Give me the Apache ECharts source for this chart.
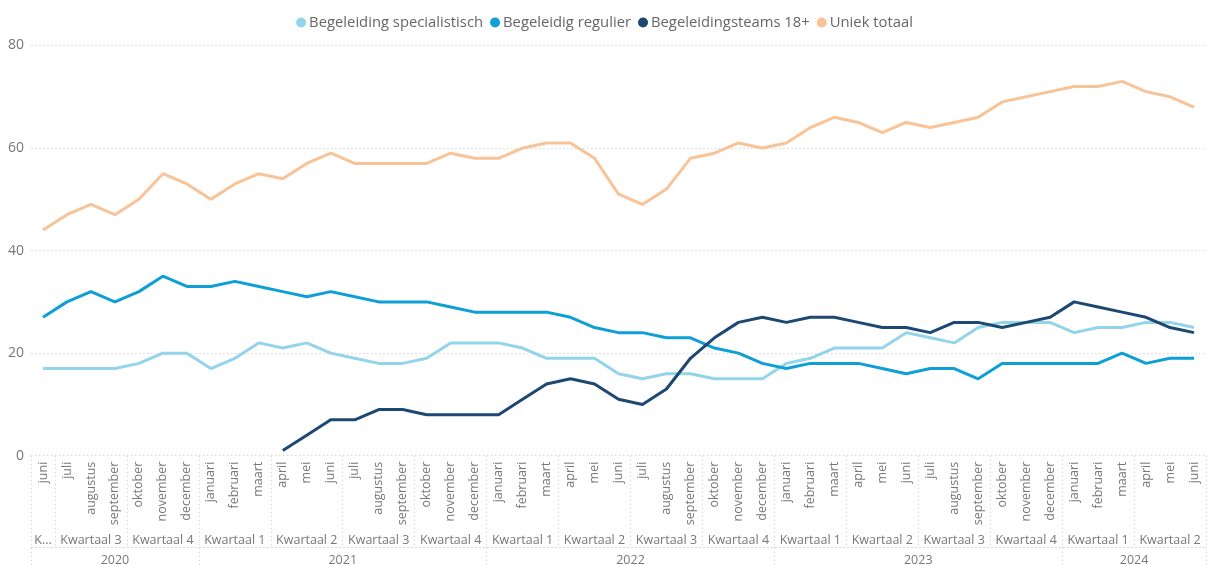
<!DOCTYPE html>
<html>
<head>
<meta charset="utf-8">
<script src="https://cdn.jsdelivr.net/npm/echarts@6/dist/echarts.min.js"></script>
<style>
html,body{margin:0;padding:0;background:#fff;}
#c{width:1209px;height:565px;}
</style>
</head>
<body>
<div id="c"></div>
<script>
// ---- data ----
const monthNames = ['januari','februari','maart','april','mei','juni','juli','augustus','september','oktober','november','december'];
const startYear = 2020;
const startMonth = 5; // juni (0-based)
const monthCount = 49;
const seriesNames = ['Begeleiding specialistisch','Begeleidig regulier','Begeleidingsteams 18+','Uniek totaal'];
const specialistisch = [17,17,17,17,18,20,20,17,19,22,21,22,20,19,18,18,19,22,22,22,21,19,19,19,16,15,16,16,15,15,15,18,19,21,21,21,24,23,22,25,26,26,26,24,25,25,26,26,25];
const regulier = [27,30,32,30,32,35,33,33,34,33,32,31,32,31,30,30,30,29,28,28,28,28,27,25,24,24,23,23,21,20,18,17,18,18,18,17,16,17,17,15,18,18,18,18,18,20,18,19,19];
const teams18 = [null,null,null,null,null,null,null,null,null,null,1,4,7,7,9,9,8,8,8,8,11,14,15,14,11,10,13,19,23,26,27,26,27,27,26,25,25,24,26,26,25,26,27,30,29,28,27,25,24];
const uniekTotaal = [44,47,49,47,50,55,53,50,53,55,54,57,59,57,57,57,57,59,58,58,60,61,61,58,51,49,52,58,59,61,60,61,64,66,65,63,65,64,65,66,69,70,71,72,72,73,71,70,68];
const colors = ['#93D4EB','#0E9FD6','#1D4873','#F9C398'];
const quarterPrefix = 'Kwartaal ';

// ---- derived category info ----
const months = [], monthYear = [], monthQuarter = [];
for (let i = 0; i < monthCount; i++) {
  const m = (startMonth + i) % 12;
  const y = startYear + Math.floor((startMonth + i) / 12);
  months.push(monthNames[m]);
  monthYear.push(y);
  monthQuarter.push(Math.floor(m / 3) + 1);
}
function groups(keyFn) {
  const g = [];
  for (let i = 0; i < monthCount; i++) {
    const k = keyFn(i);
    if (!g.length || g[g.length - 1].key !== k) g.push({key: k, start: i, len: 1});
    else g[g.length - 1].len++;
  }
  return g;
}
const qGroups = groups(i => monthYear[i] + '-' + monthQuarter[i]);
const yGroups = groups(i => String(monthYear[i]));
const qStart = new Set(qGroups.map(g => g.start));
const yStart = new Set(yGroups.map(g => g.start));
function centerInfo(gs, idx) {
  for (const g of gs) {
    const c = g.start + Math.floor((g.len - 1) / 2);
    if (c === idx) return {g: g, even: g.len % 2 === 0};
  }
  return null;
}

const font = '"Segoe UI","Open Sans","Noto Sans",sans-serif';
const grey = '#777';
const sepLine = {color: '#d8d8d8', type: [1.5, 2.5], width: 1};

const chart = echarts.init(document.getElementById('c'), null, {renderer: 'canvas'});
chart.setOption({
  animation: false,
  textStyle: {fontFamily: font},
  color: colors,
  legend: {
    top: 10, left: 'center',
    icon: 'circle', itemWidth: 10, itemHeight: 10, itemGap: 7,
    textStyle: {color: '#666', fontSize: 14.8, fontFamily: font, padding: [0,0,0,-2]},
    data: seriesNames
  },
  grid: {left: 31, right: 3, top: 45.5, bottom: 109.3, containLabel: false, outerBoundsMode: 'none'},
  yAxis: {
    type: 'value', min: 0, max: 80, interval: 20,
    axisLine: {show: false}, axisTick: {show: false},
    axisLabel: {color: grey, fontSize: 14, margin: 7, fontFamily: font},
    splitLine: {lineStyle: sepLine}
  },
  xAxis: [
    {
      type: 'category', data: months, position: 'bottom', boundaryGap: true,
      axisLine: {show: false}, axisTick: {show: false},
      axisLabel: {rotate: 90, interval: 0, color: grey, fontSize: 12.5, margin: 6, fontFamily: font}
    },
    {
      type: 'category', data: months, position: 'bottom', boundaryGap: true, offset: 0,
      axisLine: {show: false},
      axisTick: {show: true, length: 92, interval: (idx) => qStart.has(idx), lineStyle: sepLine},
      axisLabel: {
        interval: 0, color: grey, fontSize: 12.5, margin: 78, fontFamily: font,
        formatter: function (v, idx) {
          const c = centerInfo(qGroups, idx);
          if (!c) return '';
          const name = quarterPrefix + monthQuarter[idx];
          return c.g.len < 2 ? name.charAt(0) + '...' : name;
        }
      }
    },
    {
      type: 'category', data: months, position: 'bottom', boundaryGap: true, offset: 92,
      axisLine: {show: true, lineStyle: sepLine},
      axisTick: {show: true, length: 20, interval: (idx) => yStart.has(idx), lineStyle: sepLine},
      axisLabel: {
        interval: 0, color: grey, fontSize: 12.5, margin: 6, fontFamily: font,
        formatter: function (v, idx) {
          const c = centerInfo(yGroups, idx);
          if (!c) return '';
          return c.even ? '{e|' + monthYear[idx] + '}' : '{o|' + monthYear[idx] + '}';
        },
        rich: {
          e: {padding: [0,0,0,24], color: grey, fontSize: 12.5, fontFamily: font},
          o: {color: grey, fontSize: 12.5, fontFamily: font}
        }
      }
    }
  ],
  series: [
    {name: seriesNames[0], type: 'line', data: specialistisch},
    {name: seriesNames[1], type: 'line', data: regulier},
    {name: seriesNames[2], type: 'line', data: teams18},
    {name: seriesNames[3], type: 'line', data: uniekTotaal}
  ].map(s => Object.assign(s, {
    xAxisIndex: 0, showSymbol: false, symbol: 'none', smooth: false,
    lineStyle: {width: 3}, connectNulls: false
  }))
});
</script>
</body>
</html>
